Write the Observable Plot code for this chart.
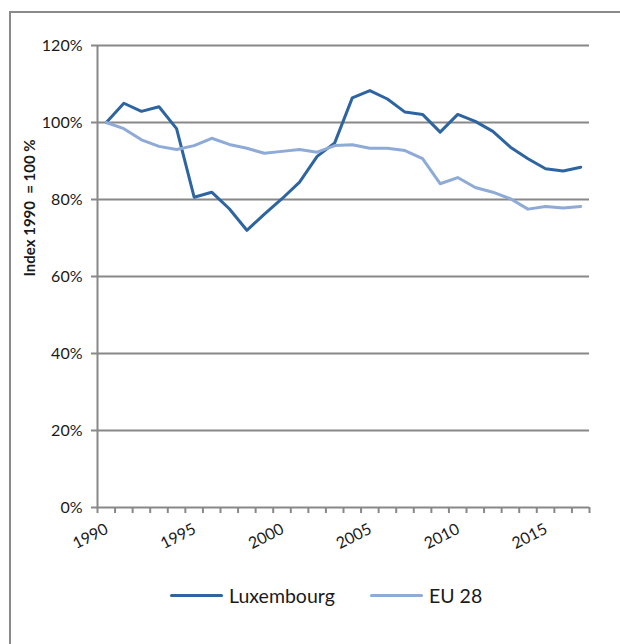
<!DOCTYPE html>
<html>
<head>
<meta charset="utf-8">
<script src="https://cdn.jsdelivr.net/npm/d3@7"></script>
<script src="https://cdn.jsdelivr.net/npm/@observablehq/plot@0.6"></script>
<style>
  html, body { margin: 0; padding: 0; background: #fff; overflow: hidden; width: 620px; height: 644px; }
  body { font-family: Lato, "Open Sans", sans-serif; color: #1a1a1a; position: relative; }
  #frame { position: absolute; left: 9px; top: 11px; width: 700px; height: 700px;
           border-top: 2px solid #8a8a8a; border-left: 2px solid #8a8a8a; box-sizing: border-box; }
  #chart { position: absolute; left: 0; top: 0; }
  #legend { position: absolute; left: 0; top: 582px; width: 620px; height: 26px; }
  .item { position: absolute; top: 0; height: 26px; display: flex; align-items: center; font-size: 19.5px; color: #1a1a1a; }
  .swatch { width: 53px; height: 3px; border-radius: 2px; margin-right: 6px; }
</style>
</head>
<body>
<div id="frame"></div>
<div id="chart"></div>
<div id="legend"></div>
<script>
// ---- data ----
const years = [1990, 1991, 1992, 1993, 1994, 1995, 1996, 1997, 1998, 1999,
               2000, 2001, 2002, 2003, 2004, 2005, 2006, 2007, 2008, 2009,
               2010, 2011, 2012, 2013, 2014, 2015, 2016, 2017];
const luxembourg = [100.0, 105.0, 102.9, 104.1, 98.4, 80.6, 81.9, 77.6, 72.0, 76.2,
                    80.2, 84.5, 91.2, 94.7, 106.4, 108.3, 106.1, 102.7, 102.1, 97.5,
                    102.1, 100.3, 97.7, 93.6, 90.6, 88.0, 87.4, 88.4];
const eu28 = [100.0, 98.4, 95.5, 93.8, 93.0, 94.0, 95.9, 94.3, 93.3, 92.0,
              92.5, 93.0, 92.3, 94.0, 94.2, 93.3, 93.3, 92.7, 90.6, 84.1,
              85.7, 83.1, 81.9, 80.2, 77.5, 78.2, 77.8, 78.2];
const seriesNames = ["Luxembourg", "EU 28"];
const seriesColors = ["#2e64a0", "#8eaad6"];
const yTicks = [0, 20, 40, 60, 80, 100, 120];
const xLabelYears = [1990, 1995, 2000, 2005, 2010, 2015];
const yTitle = "Index 1990  = 100 %";

// ---- tidy table ----
const rows = [];
years.forEach((yr, i) => {
  rows.push({year: yr, value: luxembourg[i], series: seriesNames[0]});
  rows.push({year: yr, value: eu28[i], series: seriesNames[1]});
});

const xDomain = [years[0] - 0.5, years[years.length - 1] + 0.5];
const xEdges = d3.range(xDomain[0], xDomain[1] + 0.01, 1);
const gray = "#888888";

const chart = Plot.plot({
  width: 620,
  height: 560,
  marginLeft: 97,
  marginRight: 31,
  marginTop: 45,
  marginBottom: 53,
  style: { fontFamily: "Lato, 'Open Sans', sans-serif", color: "#1a1a1a", background: "transparent", overflow: "visible" },
  x: { domain: xDomain, axis: null },
  y: { domain: [0, 120], axis: null },
  color: { domain: seriesNames, range: seriesColors },
  marks: [
    // gridlines
    Plot.ruleY(yTicks.filter(d => d > 0), { stroke: gray, strokeWidth: 2, strokeOpacity: 1 }),
    // y axis ticks + labels
    Plot.axisY({ ticks: yTicks, tickSize: 6, tickPadding: 9, tickFormat: d => d + "%",
                 stroke: gray, strokeWidth: 2, fill: "#1a1a1a", fontSize: 16, label: null }),
    // x axis ticks
    Plot.axisX({ ticks: xEdges, tickSize: 6, tickFormat: () => "", stroke: gray, strokeWidth: 2, label: null }),
    // axis lines
    Plot.ruleX([xDomain[0]], { y1: 0, y2: 120, stroke: gray, strokeWidth: 2 }),
    Plot.ruleY([0], { x1: xDomain[0], x2: xDomain[1], stroke: gray, strokeWidth: 2 }),
    // x tick labels (rotated)
    Plot.text(xLabelYears, { x: d => d, y: 0, text: d => String(d), rotate: -27,
                             textAnchor: "end", lineAnchor: "bottom", dx: 3, dy: 25,
                             fontSize: 16, fill: "#1a1a1a" }),
    // y title
    Plot.text([yTitle], { frameAnchor: "left", rotate: -90, dx: -67, fontWeight: "bold",
                          fontSize: 15, fill: "#1a1a1a" }),
    // series lines (Luxembourg first, EU 28 drawn on top)
    Plot.line(rows.filter(d => d.series === seriesNames[0]), { x: "year", y: "value", stroke: "series",
              strokeWidth: 3, strokeLinejoin: "round", strokeLinecap: "round" }),
    Plot.line(rows.filter(d => d.series === seriesNames[1]), { x: "year", y: "value", stroke: "series",
              strokeWidth: 3, strokeLinejoin: "round", strokeLinecap: "round" })
  ]
});
document.getElementById("chart").appendChild(chart);

// ---- legend ----
const legend = document.getElementById("legend");
const legendLeft = [170, 370];
seriesNames.forEach((name, i) => {
  const item = document.createElement("div");
  item.className = "item";
  item.style.left = legendLeft[i] + "px";
  const sw = document.createElement("span");
  sw.className = "swatch";
  sw.style.background = seriesColors[i];
  const label = document.createElement("span");
  label.textContent = name;
  item.appendChild(sw);
  item.appendChild(label);
  legend.appendChild(item);
});
</script>
</body>
</html>
